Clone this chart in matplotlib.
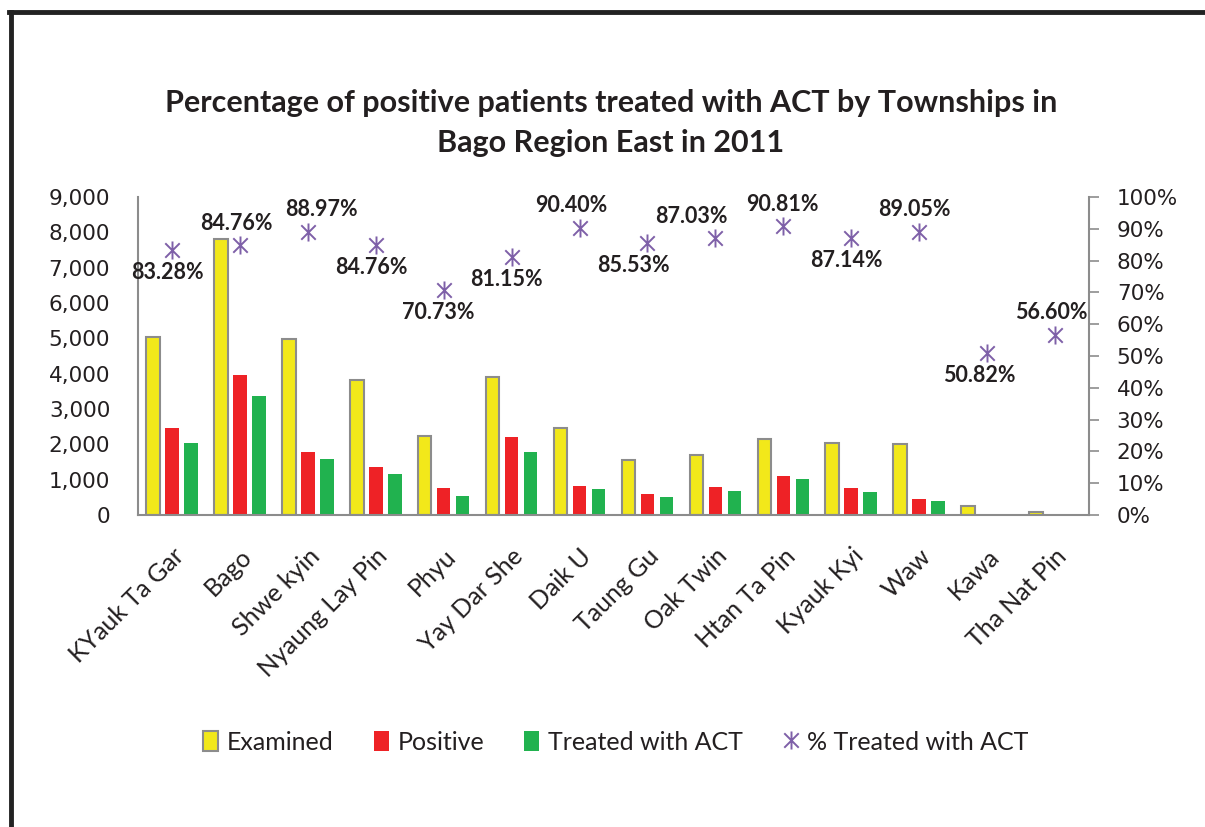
import matplotlib
matplotlib.use("Agg")
import matplotlib.pyplot as plt
import matplotlib.transforms as mtransforms
from matplotlib.lines import Line2D
from matplotlib.path import Path
from matplotlib.ticker import FuncFormatter, MultipleLocator
import numpy as np

# townships and counts
townships = ["KYauk Ta Gar", "Bago", "Shwe kyin", "Nyaung Lay Pin", "Phyu",
             "Yay Dar She", "Daik U", "Taung Gu", "Oak Twin", "Htan Ta Pin",
             "Kyauk Kyi", "Waw", "Kawa", "Tha Nat Pin"]
examined = [5050, 7810, 4980, 3820, 2250, 3900, 2470, 1560, 1700, 2160, 2030, 2000, 265, 80]
positive = [2450, 3960, 1775, 1360, 755, 2200, 820, 595, 790, 1105, 765, 455, 30, 25]
treated = [2040, 3357, 1580, 1150, 535, 1785, 740, 510, 690, 1005, 665, 405, 15, 14]
pct_treated = [83.28, 84.76, 88.97, 84.76, 70.73, 81.15, 90.40, 85.53, 87.03,
               90.81, 87.14, 89.05, 50.82, 56.60]

# label placement (Excel nudged a few of them sideways)
label_side = ["below", "above", "above", "below", "below", "below", "above",
              "below", "above", "above", "below", "above", "below", "above"]
label_dx = [-5, -4, 14, -4, -5, -5, -8, -14, -24, -1, -5, -5, -8, -4]

YELLOW = "#F2E81A"
RED = "#EE2226"
GREEN = "#21B24F"
PURPLE = "#7E60A8"
GREY = "#8C8C8C"
TXT = "#231F20"

plt.rcParams["font.family"] = ["Lato", "DejaVu Sans"]

# Excel style star: an X with a vertical stroke through it
star = Path([(0, -1), (0, 1), (-0.8, -0.8), (0.8, 0.8), (-0.8, 0.8), (0.8, -0.8)],
            [Path.MOVETO, Path.LINETO, Path.MOVETO, Path.LINETO, Path.MOVETO, Path.LINETO])

fig = plt.figure(figsize=(12.05, 8.27), dpi=100)
ax = fig.add_axes([138 / 1205, 1 - 515 / 827, (1089 - 138) / 1205, (515 - 197) / 827])
ax2 = ax.twinx()

x = np.arange(len(townships))
w = 0.2
off = 0.28
ax.bar(x - off, examined, w, color=YELLOW, edgecolor=GREY, linewidth=1.5, label="Examined")
ax.bar(x, positive, w, color=RED, label="Positive")
ax.bar(x + off, treated, w, color=GREEN, label="Treated with ACT")

ax.set_xlim(-0.5, len(townships) - 0.5)
ax.set_ylim(0, 9000)
ax.yaxis.set_major_locator(MultipleLocator(1000))
ax.yaxis.set_major_formatter(FuncFormatter(lambda v, p: f"{int(v):,}"))

ax2.plot(x, pct_treated, linestyle="none", marker=star, markersize=13,
         markeredgewidth=1.4, color=PURPLE, label="% Treated with ACT")
ax2.set_ylim(0, 100)
ax2.yaxis.set_major_locator(MultipleLocator(10))
ax2.yaxis.set_major_formatter(FuncFormatter(lambda v, p: f"{int(v)}%"))

for i, v in enumerate(pct_treated):
    dy = 16 if label_side[i] == "above" else -16
    ax2.annotate(f"{v:.2f}%", (x[i], v), xytext=(label_dx[i] * 0.72, dy),
                 textcoords="offset points", ha="center", va="center",
                 fontsize=15.5, fontweight="bold", color=TXT)

for a in (ax, ax2):
    a.spines["top"].set_visible(False)
    for s in ("left", "right", "bottom"):
        a.spines[s].set_color(GREY)
        a.spines[s].set_linewidth(1.5)
ax.spines["right"].set_visible(False)
ax2.spines["left"].set_visible(False)
ax2.spines["bottom"].set_visible(False)

ax.set_xticks(x)
ax.set_xticklabels(townships, rotation=45, ha="right", va="center",
                   rotation_mode="anchor", fontsize=18, color=TXT)
ax.tick_params(axis="x", length=0, pad=27)
# nudge the slanted names a little to the right
shift = mtransforms.ScaledTranslation(8 / 100, 0, fig.dpi_scale_trans)
for t in ax.get_xticklabels():
    t.set_transform(t.get_transform() + shift)
ax.tick_params(axis="y", length=0, pad=20)
for t in ax.get_yticklabels():
    t.set_fontfamily("DejaVu Sans")
    t.set_fontsize(15.5)
    t.set_color(TXT)
ax2.tick_params(axis="y", length=7, width=1.2, color=GREY, pad=13)
for t in ax2.get_yticklabels():
    t.set_fontfamily("DejaVu Sans")
    t.set_fontsize(15.5)
    t.set_color(TXT)

fig.text(0.507, 1 - 123 / 827,
         "Percentage of positive patients treated with ACT by Townships in\nBago Region East in 2011",
         ha="center", va="center", fontsize=22, fontweight="bold", color=TXT, linespacing=1.5)

h1, l1 = ax.get_legend_handles_labels()
h2, l2 = ax2.get_legend_handles_labels()
fig.legend(h1 + h2, l1 + l2, loc="center", bbox_to_anchor=(0.511, 1 - 742 / 827), ncol=4,
           frameon=False, fontsize=18, handlelength=0.6, handleheight=0.9,
           handletextpad=0.35, columnspacing=1.6, labelcolor=TXT)

# black frame along left and top
fig.add_artist(Line2D([10.5 / 1205, 10.5 / 1205], [0, 1 - 12 / 827], color="#222222", linewidth=3.5))
fig.add_artist(Line2D([9 / 1205, 1], [1 - 12 / 827, 1 - 12 / 827], color="#222222", linewidth=3.5))

fig.savefig("out.png", dpi=100)
